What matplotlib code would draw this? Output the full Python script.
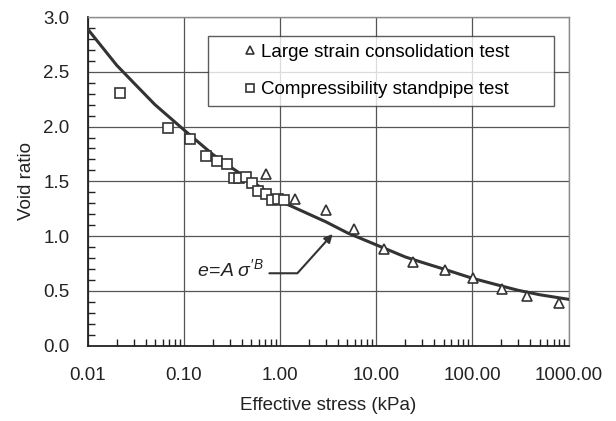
"""
Void ratio vs effective stress: consolidation test data and power-law fit.
"""

import numpy as np
import matplotlib.pyplot as plt
from matplotlib.ticker import FixedLocator, LogLocator, NullFormatter

plt.rcParams['font.family'] = ['Liberation Sans', 'DejaVu Sans']
plt.rcParams['mathtext.fontset'] = 'custom'
plt.rcParams['mathtext.rm'] = 'Liberation Sans'
plt.rcParams['mathtext.it'] = 'Liberation Sans:italic'

# Large strain consolidation test (triangles)
ls_stress = [0.708, 1.43, 3.0, 5.91, 12.0, 23.9, 51.4, 102, 201, 371, 787]
ls_void = [1.564, 1.341, 1.238, 1.062, 0.880, 0.761, 0.691, 0.615, 0.515, 0.456, 0.387]

# Compressibility standpipe test (squares)
cs_stress = [0.0217, 0.0678, 0.116, 0.169, 0.221, 0.279, 0.329, 0.371, 0.439,
             0.514, 0.594, 0.713, 0.830, 0.958, 1.089]
cs_void = [2.31, 1.99, 1.889, 1.731, 1.685, 1.655, 1.527, 1.527, 1.542,
           1.482, 1.411, 1.381, 1.327, 1.336, 1.327]

# fitted curve e = A sigma'^B
fit_stress = [0.01, 0.02, 0.03, 0.05, 0.1, 0.2, 0.3, 0.5, 1, 2, 3, 5, 10,
              20, 30, 50, 100, 200, 300, 500, 1000]
fit_void = [2.89, 2.56, 2.40, 2.20, 1.97, 1.745, 1.635, 1.505, 1.32, 1.20, 1.13, 1.03, 0.92,
            0.81, 0.76, 0.70, 0.615, 0.545, 0.505, 0.465, 0.423]

x_ticks = [0.01, 0.1, 1, 10, 100, 1000]
x_labels = ['0.01', '0.10', '1.00', '10.00', '100.00', '1000.00']
y_ticks = [0.0, 0.5, 1.0, 1.5, 2.0, 2.5, 3.0]

dark = '#333333'
fs = 13.5

fig = plt.figure(figsize=(6.16, 4.21), dpi=100)
ax = fig.add_axes([0.1424, 0.1789, 0.7808, 0.7807])

ax.plot(fit_stress, fit_void, color=dark, lw=2.2, zorder=3)
ax.plot(ls_stress, ls_void, ls='none', marker='^', ms=7.2, mfc='white', mec=dark,
        mew=1.2, zorder=4, label='Large strain consolidation test')
ax.plot(cs_stress, cs_void, ls='none', marker='s', ms=7.0, mfc='white', mec=dark,
        mew=1.2, zorder=4, label='Compressibility standpipe test')

ax.set_xscale('log')
ax.set_xlim(0.01, 1000)
ax.set_ylim(0, 3)
ax.set_xticks(x_ticks)
ax.set_xticklabels(x_labels)
ax.xaxis.set_minor_locator(LogLocator(base=10, subs=np.arange(2, 10)))
ax.xaxis.set_minor_formatter(NullFormatter())
ax.set_yticks(y_ticks)
ax.set_yticklabels(['%.1f' % v for v in y_ticks])
ax.yaxis.set_minor_locator(FixedLocator(np.arange(0, 3.01, 0.1)))

ax.tick_params(which='major', length=0, labelsize=fs, colors='#222222')
ax.tick_params(axis='x', which='major', pad=15)
ax.tick_params(axis='y', which='major', pad=13)
ax.tick_params(which='minor', direction='in', length=5, width=1, color='#222222')
ax.tick_params(top=False, right=False)

ax.grid(True, which='major', color='#555555', lw=0.9)
ax.set_axisbelow(True)
for side in ['left', 'bottom']:
    ax.spines[side].set_color('#222222')
    ax.spines[side].set_linewidth(1.3)
for side in ['top', 'right']:
    ax.spines[side].set_color('#8c8c8c')
    ax.spines[side].set_linewidth(1.0)

ax.set_xlabel('Effective stress (kPa)', fontsize=fs, color='#222222', labelpad=10)
ax.set_ylabel('Void ratio', fontsize=fs, color='#222222', labelpad=6)

leg = ax.legend(loc='upper left', bbox_to_anchor=(0.2507, 0.729, 0.7193, 0.213),
                mode='expand', fontsize=fs, frameon=True, fancybox=False,
                borderpad=0.4, handlelength=3.6, handletextpad=-1.2,
                labelspacing=1.1, markerscale=0.85, borderaxespad=0)
leg.get_frame().set_edgecolor(dark)
leg.get_frame().set_linewidth(1.0)

ax.annotate('', xy=(3.52, 1.019), xytext=(0.773, 0.661),
            arrowprops=dict(arrowstyle='-|>', color=dark, lw=1.5,
                            mutation_scale=12, shrinkA=0, shrinkB=0,
                            connectionstyle='angle,angleA=0,angleB=48,rad=0'))
ax.text(0.68, 0.70, r"$e\!=\!A\;\sigma'^{B}$", fontsize=fs + 0.5, color='#222222',
        ha='right', va='center')

fig.savefig('out.png', dpi=100)
